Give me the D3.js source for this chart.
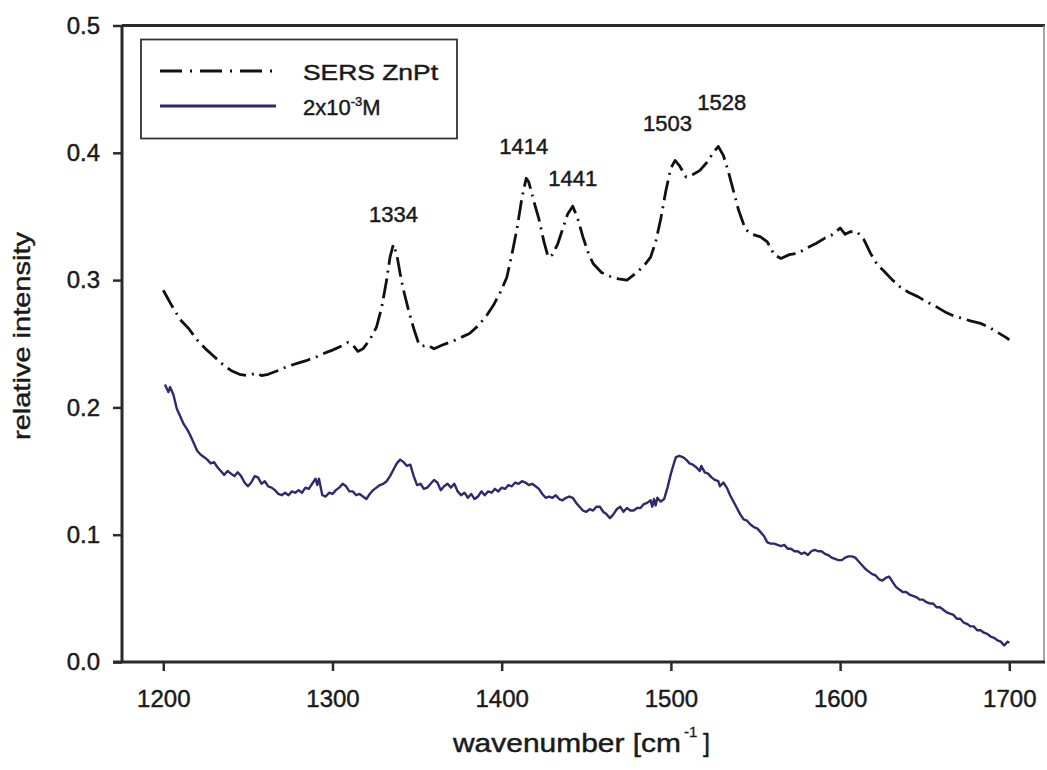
<!DOCTYPE html>
<html><head><meta charset="utf-8">
<script src="https://cdn.jsdelivr.net/npm/d3@7"></script>
<style>
html,body{margin:0;padding:0;background:#fff;}
text{font-family:"Liberation Sans",Arial,sans-serif;fill:#1a1a1a;stroke:#1a1a1a;stroke-width:0.45px;}
</style></head>
<body>
<svg id="chart" width="1047" height="770"></svg>
<script>
// ---- data ----
const xTicks = [1200, 1300, 1400, 1500, 1600, 1700];
const yTicks = [0.0, 0.1, 0.2, 0.3, 0.4, 0.5];
const seriesNames = ["SERS ZnPt", "2x10-3M"];

const sersWavenumber = [1200,1205,1210,1215,1220,1225,1230,1235,1240,1245,1250,1255,1258,1262,1268,1273,1280,1285,1291,1296,1300,1305,1309,1312,1315,1318,1322,1326,1329,1332,1334,1336,1338,1340,1342,1345,1348,1351,1353,1356,1360,1365,1371,1376,1381,1386,1391,1395,1399,1403,1406,1409,1412,1414.5,1416,1419,1422,1425,1427.5,1430,1433,1436,1439,1442,1445,1448,1451,1454,1459,1464,1469,1474,1479,1484,1488,1491,1494,1497,1500,1502.5,1505,1509,1513,1517,1521,1525,1528,1531,1534,1537,1540,1544,1548,1553,1557,1561,1565,1570,1575,1580,1586,1591,1596,1600,1603,1606,1610,1614,1618,1622,1626,1631,1636,1641,1646,1651,1657,1662,1667,1672,1677,1683,1688,1693,1698,1700];
const sersIntensity = [0.292,0.280,0.269,0.262,0.253,0.246,0.240,0.234,0.229,0.226,0.225,0.227,0.225,0.226,0.229,0.232,0.235,0.237,0.240,0.243,0.245,0.248,0.251,0.249,0.244,0.246,0.253,0.263,0.278,0.300,0.318,0.328,0.320,0.305,0.292,0.276,0.262,0.250,0.248,0.249,0.246,0.249,0.252,0.255,0.258,0.264,0.272,0.280,0.290,0.302,0.320,0.340,0.365,0.380,0.377,0.362,0.348,0.330,0.318,0.320,0.328,0.340,0.352,0.358,0.348,0.334,0.322,0.313,0.306,0.303,0.301,0.300,0.305,0.311,0.318,0.330,0.348,0.370,0.388,0.394,0.390,0.381,0.383,0.386,0.392,0.400,0.405,0.398,0.385,0.370,0.355,0.340,0.336,0.334,0.330,0.320,0.317,0.320,0.321,0.325,0.329,0.333,0.336,0.341,0.336,0.338,0.338,0.332,0.321,0.312,0.307,0.300,0.294,0.290,0.287,0.283,0.279,0.275,0.272,0.270,0.268,0.266,0.263,0.259,0.255,0.253];

const concWavenumber = [1201,1203,1204,1206,1208,1210,1212,1214,1216,1218,1220,1222,1224,1226,1228,1230,1232,1234,1236,1238,1240,1242,1244,1246,1248,1250,1252,1254,1256,1258,1260,1262,1264,1266,1268,1270,1272,1274,1276,1278,1280,1282,1284,1286,1288,1290,1291,1292,1294,1296,1298,1300,1302,1304,1306,1308,1310,1312,1314,1316,1318,1320,1322,1324,1326,1328,1330,1332,1334,1336,1338,1340,1342,1344,1346,1348,1350,1352,1354,1356,1358,1360,1362,1364,1366,1368,1370,1372,1374,1376,1378,1380,1382,1384,1386,1388,1390,1392,1394,1396,1398,1400,1402,1404,1406,1408,1410,1412,1414,1416,1418,1420,1422,1424,1426,1428,1430,1432,1434,1436,1438,1440,1442,1444,1446,1448,1450,1452,1454,1456,1458,1460,1462,1464,1466,1468,1470,1472,1474,1476,1478,1480,1482,1484,1486,1488,1489,1490,1491,1492,1494,1496,1498,1500,1502,1503,1505,1507,1509,1511,1513,1515,1517,1518,1520,1522,1524,1526,1528,1529,1531,1533,1535,1537,1539,1541,1543,1545,1547,1549,1551,1553,1555,1557,1559,1561,1563,1565,1567,1569,1571,1573,1575,1577,1579,1581,1583,1585,1587,1589,1591,1593,1595,1597,1599,1601,1603,1605,1607,1609,1611,1613,1615,1617,1619,1621,1623,1625,1627,1629,1631,1633,1635,1637,1639,1641,1643,1645,1647,1649,1651,1653,1655,1657,1659,1661,1663,1665,1667,1669,1671,1673,1675,1677,1679,1681,1683,1685,1687,1689,1691,1693,1695,1697,1699,1700];
const concIntensity = [0.218,0.212,0.216,0.210,0.199,0.193,0.187,0.183,0.178,0.172,0.166,0.163,0.161,0.159,0.156,0.157,0.153,0.150,0.147,0.150,0.148,0.146,0.149,0.146,0.141,0.138,0.141,0.146,0.145,0.140,0.142,0.138,0.137,0.135,0.132,0.131,0.133,0.131,0.134,0.133,0.135,0.133,0.137,0.136,0.140,0.144,0.139,0.144,0.131,0.130,0.133,0.132,0.135,0.137,0.140,0.138,0.134,0.134,0.131,0.132,0.130,0.128,0.132,0.135,0.137,0.139,0.140,0.142,0.146,0.151,0.156,0.159,0.157,0.154,0.155,0.146,0.139,0.140,0.136,0.137,0.140,0.143,0.141,0.135,0.138,0.140,0.137,0.140,0.134,0.131,0.133,0.129,0.132,0.128,0.130,0.134,0.131,0.134,0.133,0.136,0.134,0.137,0.136,0.139,0.138,0.141,0.140,0.142,0.141,0.139,0.140,0.138,0.136,0.132,0.129,0.130,0.129,0.131,0.128,0.127,0.129,0.130,0.129,0.125,0.122,0.119,0.118,0.120,0.119,0.122,0.122,0.118,0.116,0.113,0.116,0.120,0.122,0.118,0.121,0.119,0.119,0.121,0.121,0.124,0.125,0.127,0.122,0.128,0.123,0.129,0.126,0.128,0.137,0.148,0.157,0.161,0.162,0.161,0.159,0.156,0.155,0.153,0.150,0.154,0.149,0.148,0.145,0.143,0.142,0.138,0.141,0.137,0.131,0.126,0.121,0.116,0.112,0.111,0.108,0.106,0.105,0.102,0.099,0.094,0.093,0.093,0.092,0.091,0.092,0.089,0.089,0.087,0.087,0.085,0.086,0.084,0.087,0.088,0.087,0.087,0.085,0.084,0.082,0.081,0.080,0.080,0.082,0.083,0.083,0.082,0.079,0.076,0.073,0.071,0.069,0.068,0.065,0.064,0.066,0.067,0.063,0.059,0.057,0.055,0.055,0.053,0.052,0.051,0.049,0.049,0.047,0.046,0.046,0.043,0.043,0.041,0.039,0.038,0.037,0.034,0.034,0.031,0.030,0.028,0.028,0.025,0.025,0.023,0.022,0.020,0.019,0.017,0.016,0.013,0.016,0.015];

const peakLabels = ["1334", "1414", "1441", "1503", "1528"];
const peakLabelWavenumber = [1336, 1413, 1442, 1498, 1530];
const peakLabelIntensity = [0.352, 0.405, 0.380, 0.423, 0.440];

// ---- layout ----
const svg = d3.select("#chart");
const x = d3.scaleLinear().domain([1175.6, 1721.1]).range([122, 1045]);
const y = d3.scaleLinear().domain([0, 0.5]).range([662, 25.5]);

const axisColor = "#2a2a2a";

// frame
svg.append("line").attr("x1", 122).attr("x2", 1045).attr("y1", 25.5).attr("y2", 25.5)
  .attr("stroke", axisColor).attr("stroke-width", 3);
svg.append("line").attr("x1", 1044).attr("x2", 1044).attr("y1", 25.5).attr("y2", 662)
  .attr("stroke", "#888").attr("stroke-width", 1.5);

// axes
const xAxis = d3.axisBottom(x).tickValues(xTicks).tickSize(9).tickPadding(19).tickFormat(d3.format("d"));
const gx = svg.append("g").attr("transform", "translate(0,662)").call(xAxis);
gx.select(".domain").attr("d", "M113,0H1045").attr("stroke", axisColor).attr("stroke-width", 3);
gx.selectAll(".tick line").attr("stroke", axisColor).attr("stroke-width", 2.5);
gx.selectAll(".tick text").attr("font-size", 24).attr("fill", "#1a1a1a")
  .style("font-family", '"Liberation Sans", Arial, sans-serif');

const yAxis = d3.axisLeft(y).tickValues(yTicks).tickSize(9).tickPadding(13).tickFormat(d3.format(".1f"));
const gy = svg.append("g").attr("transform", "translate(122,0)").call(yAxis);
gy.select(".domain").attr("d", "M0,25.5V662").attr("stroke", axisColor).attr("stroke-width", 3);
gy.selectAll(".tick line").attr("stroke", axisColor).attr("stroke-width", 2.5);
gy.selectAll(".tick text").attr("font-size", 24).attr("fill", "#1a1a1a")
  .style("font-family", '"Liberation Sans", Arial, sans-serif');

// axis titles
svg.append("text").attr("x", 453).attr("y", 752)
  .attr("font-size", 25).attr("textLength", 228).attr("lengthAdjust", "spacingAndGlyphs")
  .text("wavenumber [cm");
svg.append("text").attr("x", 684).attr("y", 737).attr("font-size", 15)
  .style("stroke-width", "0.3px").text("-1");
svg.append("text").attr("x", 703).attr("y", 752).attr("font-size", 25).text("]");

svg.append("text").attr("transform", "translate(30,336) rotate(-90)")
  .attr("text-anchor", "middle").attr("font-size", 24)
  .attr("textLength", 208).attr("lengthAdjust", "spacingAndGlyphs")
  .text("relative intensity");

// series
const sersData = sersWavenumber.map((w, i) => [w, sersIntensity[i]]);
const concData = concWavenumber.map((w, i) => [w, concIntensity[i]]);
const line = d3.line().x(d => x(d[0])).y(d => y(d[1]));

svg.append("path").datum(concData).attr("d", line)
  .attr("fill", "none").attr("stroke", "#2d2b6e").attr("stroke-width", 2.4)
  .attr("stroke-linejoin", "round");
svg.append("path").datum(sersData).attr("d", line)
  .attr("fill", "none").attr("stroke", "#111").attr("stroke-width", 2.8)
  .attr("stroke-dasharray", "20,6,2,6").attr("stroke-linejoin", "round");

// peak labels
svg.selectAll(".peak").data(peakLabels).enter().append("text")
  .attr("class", "peak")
  .attr("x", (d, i) => x(peakLabelWavenumber[i]))
  .attr("y", (d, i) => y(peakLabelIntensity[i]))
  .attr("text-anchor", "middle").attr("font-size", 22).attr("dy", "0.35em")
  .text(d => d);

// legend
const lg = svg.append("g");
lg.append("rect").attr("x", 141).attr("y", 39.5).attr("width", 316).attr("height", 99)
  .attr("fill", "#fff").attr("stroke", "#333").attr("stroke-width", 1.8);
lg.append("line").attr("x1", 160).attr("x2", 276).attr("y1", 71).attr("y2", 71)
  .attr("stroke", "#111").attr("stroke-width", 2.8).attr("stroke-dasharray", "22,8,2,8");
lg.append("line").attr("x1", 160).attr("x2", 276).attr("y1", 106).attr("y2", 106)
  .attr("stroke", "#2d2b6e").attr("stroke-width", 3);
lg.append("text").attr("x", 303).attr("y", 80).attr("font-size", 22)
  .attr("textLength", 135).attr("lengthAdjust", "spacingAndGlyphs").text(seriesNames[0]);
const t2 = lg.append("text").attr("x", 303).attr("y", 115).attr("font-size", 22);
t2.append("tspan").text("2x10");
t2.append("tspan").attr("font-size", 13).attr("dy", -9).text("-3");
t2.append("tspan").attr("dy", 9).text("M");
</script>
</body></html>
